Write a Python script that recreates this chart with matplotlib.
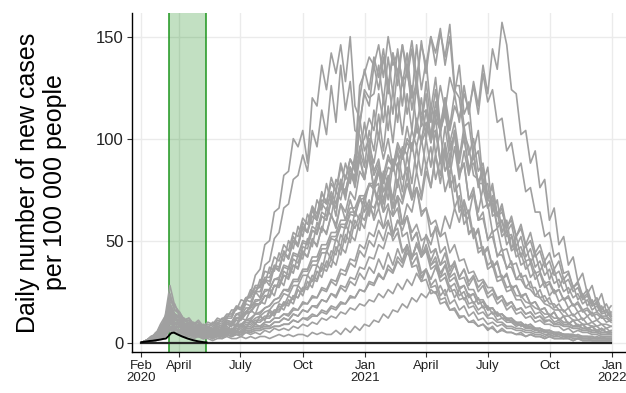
import pandas as pd
import matplotlib.pyplot as plt

plt.rcParams['font.family'] = ['Liberation Sans', 'DejaVu Sans']

# weekly points of the simulated trajectories (cases per 100 000 per day)
weeks = pd.date_range('2020-02-06', periods=100, freq='7D')

a1 = [0, 1, 3, 4, 8, 11, 19, 14, 12, 8,
      9, 6, 7, 5, 6, 5, 7, 6, 9, 9,
      14, 15, 20, 24, 33, 36, 48, 50, 64, 66,
      82, 84, 100, 96, 104, 88, 120, 116, 136, 124,
      142, 132, 146, 128, 150, 116, 110, 94, 100, 84,
      90, 74, 78, 62, 66, 52, 54, 42, 44, 34,
      36, 27, 28, 21, 22, 16, 17, 13, 13, 10,
      11, 8, 9, 6, 8, 5, 7, 5, 5, 4,
      5, 3, 4, 3, 3, 2, 3, 2, 2, 2,
      2, 1, 2, 1, 1, 1, 1, 1, 1, 1]
a2 = [0, 1, 2, 4, 5, 11, 14, 13, 9, 8,
      7, 7, 5, 6, 4, 6, 5, 7, 6, 9,
      9, 13, 15, 18, 25, 28, 38, 40, 51, 54,
      66, 68, 80, 82, 92, 84, 104, 96, 114, 102,
      126, 108, 136, 114, 128, 104, 102, 88, 90, 76,
      78, 64, 68, 54, 56, 45, 47, 37, 38, 30,
      31, 24, 25, 19, 20, 16, 16, 12, 13, 10,
      10, 8, 9, 7, 7, 5, 6, 5, 5, 4,
      4, 3, 4, 3, 3, 2, 3, 2, 2, 2,
      2, 1, 2, 1, 1, 1, 1, 1, 1, 1]
m1 = [0, 1, 3, 4, 9, 13, 28, 18, 15, 11,
      12, 9, 10, 7, 8, 7, 10, 9, 12, 12,
      17, 17, 22, 23, 28, 28, 35, 34, 42, 40,
      48, 45, 54, 52, 61, 58, 67, 63, 73, 69,
      78, 74, 86, 80, 90, 86, 120, 134, 124, 140,
      130, 144, 126, 142, 132, 146, 134, 148, 130, 146,
      136, 150, 142, 154, 136, 150, 124, 120, 102, 96,
      82, 80, 66, 68, 54, 56, 45, 46, 38, 39,
      32, 33, 27, 27, 22, 23, 19, 19, 16, 16,
      13, 14, 11, 12, 9, 10, 8, 9, 7, 8]
m2 = [0, 1, 2, 3, 7, 10, 19, 14, 13, 9,
      10, 7, 9, 6, 8, 6, 9, 8, 11, 10,
      14, 14, 19, 18, 25, 22, 31, 28, 37, 35,
      45, 41, 52, 48, 59, 54, 66, 61, 74, 68,
      81, 74, 88, 80, 90, 84, 108, 122, 116, 136,
      124, 140, 122, 142, 126, 146, 130, 144, 124, 148,
      132, 150, 136, 152, 140, 156, 126, 126, 106, 108,
      90, 94, 76, 78, 62, 64, 52, 55, 45, 47,
      38, 40, 32, 35, 27, 30, 23, 26, 20, 22,
      17, 19, 15, 16, 13, 15, 11, 13, 10, 11]
m3 = [0, 1, 2, 3, 7, 9, 17, 13, 12, 8,
      9, 6, 8, 5, 7, 5, 8, 7, 10, 9,
      12, 13, 15, 17, 20, 21, 25, 26, 31, 32,
      38, 37, 44, 43, 50, 49, 57, 55, 64, 62,
      70, 68, 76, 75, 83, 82, 106, 124, 120, 122,
      136, 118, 140, 122, 144, 126, 142, 120, 146, 124,
      138, 114, 130, 106, 120, 96, 102, 84, 88, 70,
      73, 60, 61, 51, 52, 43, 43, 37, 37, 31,
      31, 27, 26, 23, 22, 19, 18, 16, 16, 13,
      13, 11, 11, 9, 9, 8, 8, 6, 7, 5]
m4 = [0, 1, 1, 3, 4, 9, 12, 13, 8, 9,
      6, 7, 5, 6, 4, 6, 5, 7, 6, 9,
      8, 12, 11, 16, 14, 20, 19, 26, 23, 31,
      28, 37, 34, 43, 41, 51, 47, 59, 54, 66,
      62, 74, 70, 82, 78, 92, 90, 108, 94, 114,
      100, 120, 104, 124, 108, 130, 112, 126, 106, 120,
      100, 114, 92, 104, 84, 90, 74, 78, 62, 65,
      52, 56, 44, 47, 37, 40, 31, 34, 26, 28,
      22, 24, 19, 20, 16, 17, 13, 15, 11, 13,
      9, 11, 8, 9, 6, 8, 5, 7, 5, 5]
m5 = [0, 1, 1, 2, 5, 6, 12, 9, 9, 6,
      7, 4, 6, 3, 5, 3, 6, 4, 7, 5,
      8, 8, 10, 10, 12, 13, 15, 16, 19, 20,
      24, 23, 28, 28, 33, 33, 38, 38, 44, 44,
      51, 50, 57, 56, 63, 62, 70, 68, 78, 75,
      84, 78, 86, 84, 92, 90, 98, 94, 106, 98,
      104, 102, 114, 104, 112, 98, 108, 92, 100, 86,
      88, 78, 78, 70, 68, 58, 60, 52, 53, 45,
      47, 40, 41, 34, 35, 29, 30, 25, 26, 21,
      22, 18, 19, 15, 16, 13, 14, 12, 12, 10]
m6 = [0, 0, 1, 2, 4, 7, 9, 10, 6, 7,
      4, 6, 3, 5, 3, 5, 3, 6, 4, 7,
      5, 9, 7, 11, 9, 13, 11, 16, 14, 19,
      18, 23, 21, 28, 25, 33, 30, 38, 35, 45,
      41, 51, 47, 58, 53, 64, 60, 72, 62, 76,
      66, 82, 70, 88, 76, 94, 80, 98, 84, 100,
      86, 96, 80, 90, 74, 82, 66, 72, 58, 62,
      51, 55, 43, 46, 37, 39, 31, 33, 27, 28,
      23, 24, 19, 20, 16, 17, 13, 15, 11, 13,
      9, 11, 8, 9, 7, 8, 6, 7, 5, 6]
m7 = [0, 1, 1, 2, 4, 5, 10, 7, 8, 5,
      6, 3, 5, 3, 4, 2, 5, 3, 6, 4,
      7, 6, 8, 8, 10, 10, 12, 12, 15, 15,
      19, 18, 23, 22, 27, 27, 33, 31, 39, 37,
      45, 43, 53, 49, 60, 56, 63, 60, 68, 66,
      72, 64, 78, 66, 80, 70, 82, 70, 76, 64,
      66, 58, 60, 52, 54, 44, 48, 40, 41, 34,
      35, 30, 31, 27, 27, 22, 23, 19, 20, 16,
      17, 14, 15, 12, 13, 11, 11, 9, 10, 8,
      8, 7, 7, 6, 6, 5, 5, 4, 4, 4]
m8 = [0, 1, 2, 3, 7, 10, 22, 16, 14, 10,
      11, 8, 9, 7, 9, 8, 11, 10, 13, 13,
      17, 16, 21, 20, 25, 25, 31, 30, 37, 36,
      44, 41, 50, 47, 57, 54, 65, 60, 70, 68,
      72, 62, 80, 70, 86, 78, 92, 80, 92, 74,
      84, 70, 78, 66, 70, 58, 62, 50, 54, 44,
      46, 38, 40, 32, 34, 27, 29, 23, 25, 19,
      20, 16, 18, 13, 15, 11, 12, 10, 10, 8,
      9, 7, 8, 6, 7, 5, 6, 4, 5, 4,
      4, 3, 4, 3, 3, 2, 3, 2, 2, 2]
m9 = [0, 1, 2, 5, 6, 13, 20, 19, 13, 12,
      9, 10, 7, 9, 7, 10, 9, 12, 12, 16,
      16, 21, 20, 26, 24, 31, 29, 37, 35, 44,
      40, 50, 46, 57, 52, 63, 58, 70, 65, 78,
      68, 80, 76, 88, 80, 90, 126, 132, 140, 136,
      146, 130, 150, 136, 142, 128, 132, 120, 126, 112,
      114, 102, 104, 90, 92, 78, 80, 66, 68, 54,
      56, 46, 47, 38, 40, 32, 33, 27, 28, 23,
      23, 20, 19, 17, 16, 14, 14, 12, 12, 10,
      10, 8, 9, 7, 7, 6, 6, 5, 5, 4]
m10 = [0, 0, 1, 2, 3, 6, 7, 8, 5, 6,
       4, 5, 3, 5, 3, 5, 3, 6, 4, 7,
       5, 9, 7, 11, 9, 13, 11, 15, 13, 18,
       16, 21, 19, 26, 23, 30, 27, 35, 32, 40,
       37, 47, 43, 53, 49, 60, 55, 68, 63, 76,
       70, 84, 78, 90, 86, 96, 92, 104, 96, 108,
       104, 116, 110, 126, 114, 130, 122, 136, 112, 118,
       94, 104, 78, 86, 64, 70, 54, 60, 46, 52,
       42, 48, 39, 44, 35, 40, 31, 36, 27, 32,
       24, 28, 21, 24, 18, 21, 15, 18, 13, 15]
m11 = [0, 1, 1, 2, 5, 6, 12, 9, 9, 6,
       7, 4, 6, 4, 5, 3, 6, 4, 7, 5,
       8, 7, 9, 9, 11, 11, 13, 13, 16, 16,
       20, 19, 23, 22, 27, 26, 31, 30, 37, 35,
       41, 38, 47, 44, 53, 50, 60, 56, 67, 62,
       76, 68, 82, 70, 88, 74, 92, 78, 96, 82,
       100, 86, 104, 88, 106, 90, 104, 88, 102, 84,
       94, 76, 86, 66, 70, 56, 60, 48, 52, 42,
       44, 36, 39, 31, 34, 27, 29, 24, 26, 21,
       23, 18, 20, 16, 17, 14, 15, 13, 13, 11]
m12 = [0, 1, 1, 3, 6, 8, 15, 11, 11, 7,
       8, 6, 7, 5, 6, 5, 7, 6, 9, 8,
       11, 11, 14, 15, 18, 19, 23, 23, 28, 28,
       35, 33, 41, 39, 47, 46, 55, 53, 62, 60,
       70, 66, 78, 73, 86, 80, 94, 86, 104, 94,
       112, 94, 116, 98, 120, 102, 122, 104, 126, 106,
       128, 108, 124, 102, 118, 94, 102, 82, 88, 70,
       76, 60, 64, 50, 55, 42, 46, 36, 40, 31,
       34, 27, 30, 23, 26, 20, 22, 17, 19, 15,
       17, 13, 15, 11, 13, 10, 11, 9, 9, 8]
m13 = [0, 1, 2, 3, 6, 8, 17, 12, 11, 8,
       9, 6, 8, 5, 7, 6, 8, 7, 10, 9,
       12, 12, 15, 15, 19, 19, 23, 22, 28, 27,
       33, 31, 38, 36, 45, 42, 51, 47, 57, 53,
       63, 56, 68, 60, 70, 62, 72, 64, 70, 60,
       66, 56, 60, 50, 54, 44, 48, 38, 42, 32,
       36, 28, 31, 23, 26, 19, 21, 16, 18, 13,
       15, 11, 12, 9, 10, 8, 9, 7, 7, 6,
       6, 5, 5, 4, 4, 3, 4, 3, 3, 2,
       3, 2, 2, 2, 2, 1, 1, 1, 1, 1]
m14 = [0, 0, 1, 1, 3, 4, 8, 6, 6, 4,
       5, 3, 5, 3, 4, 3, 4, 4, 5, 5,
       6, 5, 7, 7, 8, 8, 10, 10, 12, 12,
       14, 14, 17, 16, 20, 19, 23, 22, 27, 26,
       31, 30, 36, 35, 41, 40, 48, 46, 54, 52,
       60, 56, 66, 62, 72, 68, 78, 70, 84, 72,
       88, 76, 92, 78, 94, 82, 96, 80, 94, 82,
       92, 78, 86, 70, 78, 62, 68, 56, 62, 52,
       58, 48, 54, 44, 48, 40, 44, 36, 40, 31,
       34, 27, 30, 23, 26, 19, 22, 16, 19, 14]
n1 = [0, 0, 1, 2, 3, 5, 8, 6, 6, 4,
      5, 3, 4, 2, 3, 2, 3, 2, 4, 3,
      4, 3, 5, 4, 5, 4, 6, 5, 7, 6,
      7, 6, 8, 7, 9, 8, 10, 9, 12, 11,
      13, 12, 15, 14, 17, 16, 19, 18, 21, 20,
      24, 22, 26, 24, 29, 26, 31, 28, 34, 30,
      36, 31, 37, 32, 38, 33, 38, 32, 36, 30,
      33, 27, 30, 24, 26, 21, 23, 18, 20, 16,
      17, 14, 15, 12, 13, 10, 11, 9, 9, 8,
      8, 7, 7, 6, 6, 5, 5, 4, 4, 4]
n2 = [0, 1, 2, 3, 6, 10, 18, 14, 12, 9,
      10, 7, 9, 6, 8, 6, 9, 8, 11, 10,
      14, 13, 17, 17, 21, 21, 26, 26, 31, 31,
      37, 36, 43, 42, 49, 48, 55, 54, 62, 60,
      69, 66, 76, 72, 82, 78, 96, 100, 110, 104,
      122, 108, 128, 112, 134, 116, 136, 114, 130, 108,
      122, 98, 110, 88, 96, 76, 82, 64, 68, 53,
      56, 44, 46, 36, 38, 30, 31, 25, 26, 21,
      21, 17, 18, 14, 15, 12, 13, 10, 11, 9,
      9, 8, 8, 7, 7, 6, 6, 5, 5, 5]
n3 = [0, 1, 2, 3, 7, 10, 24, 16, 15, 11,
      12, 9, 11, 8, 10, 9, 12, 11, 14, 14,
      18, 17, 22, 22, 27, 27, 32, 32, 38, 37,
      44, 42, 50, 48, 56, 54, 62, 60, 68, 65,
      74, 68, 80, 72, 86, 76, 90, 80, 94, 82,
      88, 74, 80, 66, 72, 58, 62, 50, 54, 42,
      45, 36, 38, 30, 32, 25, 26, 21, 22, 17,
      18, 14, 15, 12, 12, 10, 10, 8, 8, 7,
      7, 6, 6, 5, 5, 4, 4, 3, 4, 3,
      3, 3, 3, 2, 2, 2, 2, 2, 2, 2]
n4 = [0, 0, 1, 1, 2, 4, 7, 5, 5, 4,
      4, 3, 4, 3, 3, 3, 4, 3, 5, 4,
      5, 5, 6, 6, 7, 7, 8, 8, 10, 10,
      12, 11, 14, 13, 16, 15, 18, 18, 21, 20,
      24, 23, 28, 27, 32, 31, 37, 36, 42, 41,
      48, 46, 54, 52, 60, 58, 68, 64, 76, 70,
      84, 76, 92, 82, 98, 86, 104, 90, 106, 92,
      100, 84, 88, 72, 76, 62, 66, 54, 58, 47,
      52, 42, 46, 37, 40, 33, 36, 29, 31, 25,
      27, 22, 24, 19, 21, 16, 18, 14, 15, 12]
n5 = [0, 1, 1, 2, 4, 6, 11, 8, 8, 5,
      6, 4, 5, 3, 4, 3, 4, 3, 5, 4,
      5, 5, 6, 6, 7, 7, 9, 8, 10, 10,
      12, 11, 14, 13, 16, 15, 18, 17, 21, 20,
      24, 22, 27, 25, 30, 28, 34, 31, 37, 34,
      41, 36, 44, 38, 46, 40, 48, 41, 49, 42,
      48, 40, 46, 38, 44, 35, 40, 32, 36, 28,
      32, 25, 28, 22, 24, 19, 21, 16, 18, 14,
      15, 12, 13, 10, 11, 9, 9, 8, 8, 6,
      7, 5, 6, 5, 5, 4, 4, 3, 3, 3]
n6 = [0, 0, 1, 1, 2, 3, 6, 5, 4, 3,
      4, 3, 3, 2, 3, 2, 3, 3, 4, 3,
      4, 4, 5, 5, 6, 6, 7, 7, 8, 8,
      9, 9, 11, 10, 12, 12, 14, 13, 16, 15,
      18, 17, 20, 19, 23, 22, 26, 25, 29, 28,
      33, 31, 36, 34, 40, 37, 44, 41, 48, 44,
      53, 48, 57, 52, 62, 56, 66, 59, 70, 62,
      74, 64, 76, 66, 72, 62, 64, 57, 60, 52,
      56, 47, 50, 42, 45, 37, 40, 33, 35, 29,
      31, 25, 27, 21, 23, 18, 19, 15, 16, 13]
n7 = [0, 1, 2, 3, 6, 9, 16, 12, 11, 8,
      9, 7, 8, 6, 7, 6, 8, 7, 10, 9,
      12, 12, 15, 15, 19, 19, 23, 23, 28, 28,
      33, 32, 38, 37, 44, 42, 50, 48, 56, 54,
      62, 58, 68, 64, 74, 70, 84, 80, 96, 88,
      102, 90, 100, 86, 94, 80, 86, 72, 76, 62,
      66, 52, 56, 44, 47, 37, 39, 31, 32, 26,
      26, 21, 21, 17, 17, 14, 14, 11, 11, 9,
      9, 7, 7, 6, 6, 5, 5, 4, 4, 3,
      3, 3, 3, 2, 2, 2, 2, 2, 2, 2]
b1 = [0, 1, 1, 3, 5, 8, 14, 10, 10, 7,
      8, 5, 7, 4, 6, 4, 6, 5, 7, 6,
      9, 8, 11, 11, 14, 14, 17, 18, 21, 22,
      26, 25, 30, 30, 35, 35, 40, 40, 46, 46,
      52, 52, 58, 58, 64, 64, 70, 71, 77, 77,
      84, 82, 92, 86, 98, 92, 106, 94, 110, 98,
      114, 100, 118, 104, 120, 106, 122, 108, 126, 112,
      128, 116, 136, 122, 144, 134, 157, 146, 124, 122,
      102, 104, 88, 94, 76, 80, 60, 66, 48, 52,
      38, 42, 30, 34, 24, 28, 19, 24, 15, 18]
b2 = [0, 1, 2, 3, 6, 7, 13, 9, 9, 6,
      7, 5, 6, 4, 6, 4, 7, 5, 8, 6,
      9, 9, 11, 12, 14, 15, 17, 18, 21, 22,
      26, 26, 31, 31, 36, 36, 42, 42, 48, 48,
      54, 54, 60, 60, 66, 66, 72, 72, 78, 78,
      86, 80, 90, 86, 96, 90, 100, 96, 104, 100,
      108, 98, 110, 104, 114, 104, 116, 110, 122, 114,
      126, 112, 132, 118, 124, 108, 110, 94, 98, 84,
      88, 74, 76, 64, 64, 52, 54, 42, 44, 34,
      35, 27, 29, 22, 24, 18, 20, 15, 16, 13]
l1 = [0, 0, 1, 1, 2, 4, 7, 5, 4, 3,
      3, 2, 3, 2, 2, 1, 2, 2, 3, 2,
      2, 3, 2, 3, 2, 3, 3, 2, 3, 4,
      3, 4, 3, 4, 4, 3, 5, 4, 5, 4,
      4, 6, 4, 7, 5, 8, 6, 9, 8, 11,
      10, 14, 12, 16, 15, 19, 17, 22, 20, 24,
      22, 26, 24, 28, 23, 28, 22, 26, 21, 24,
      19, 22, 17, 18, 14, 15, 12, 12, 10, 10,
      8, 9, 7, 7, 5, 6, 4, 5, 4, 4,
      3, 3, 3, 2, 2, 2, 2, 2, 2, 2]
l2 = [0, 1, 1, 2, 3, 6, 8, 7, 5, 5,
      4, 3, 4, 3, 3, 2, 4, 3, 4, 3,
      5, 4, 6, 5, 6, 6, 7, 7, 8, 8,
      9, 9, 11, 10, 12, 11, 13, 13, 15, 14,
      17, 16, 19, 19, 22, 22, 26, 25, 30, 29,
      34, 31, 38, 35, 42, 39, 46, 42, 48, 42,
      46, 38, 42, 34, 38, 30, 32, 26, 28, 22,
      24, 19, 20, 16, 17, 13, 14, 11, 12, 9,
      10, 8, 9, 7, 7, 6, 6, 5, 5, 4,
      4, 4, 3, 3, 3, 3, 2, 3, 2, 2]
l3 = [0, 1, 1, 2, 5, 5, 10, 7, 8, 5,
      6, 4, 5, 3, 5, 3, 5, 3, 6, 4,
      6, 5, 7, 7, 9, 8, 10, 10, 12, 12,
      14, 13, 16, 16, 19, 19, 22, 22, 26, 25,
      30, 28, 34, 33, 39, 37, 45, 42, 50, 47,
      55, 50, 59, 53, 60, 55, 62, 54, 58, 50,
      52, 44, 46, 38, 40, 32, 34, 27, 28, 23,
      24, 19, 20, 16, 17, 13, 14, 12, 12, 10,
      10, 8, 9, 7, 7, 6, 6, 5, 5, 4,
      4, 4, 3, 3, 3, 3, 2, 2, 2, 2]

simulations = [a1, a2, m1, m2, m3, m4, m5, m6, m7, m8, m9, m10, m11, m12,
               m13, m14, n1, n2, n3, n4, n5, n6, n7, b1, b2, l1, l2, l3]

# observed curve during the first wave, every 4 days
obs_dates = pd.date_range('2020-02-06', '2020-05-12', freq='4D')
observed = [0.2, 0.4, 0.6, 0.8, 0.9, 1.1, 1.3, 1.5, 1.8, 2.0,
            3.3, 4.7, 4.9, 4.2, 3.6, 3.0, 2.5, 2.0, 1.6, 1.2,
            0.9, 0.6, 0.4, 0.2, 0.1]
baseline = [0] * len(weeks)

lockdown_start = pd.Timestamp('2020-03-17')
lockdown_end = pd.Timestamp('2020-05-11')

tick_dates = pd.to_datetime(['2020-02-06', '2020-04-01', '2020-07-01',
                             '2020-10-01', '2021-01-01', '2021-04-01',
                             '2021-07-01', '2021-10-01', '2022-01-01'])
tick_labels = ['Feb\n2020', 'April', 'July', 'Oct', 'Jan\n2021',
               'April', 'July', 'Oct', 'Jan\n2022']
y_ticks = [0, 50, 100, 150]

fig = plt.figure(figsize=(6.26, 3.93), dpi=100)
ax = fig.add_axes([132 / 626, 41 / 393, 494 / 626, 339 / 393])

ax.axvspan(lockdown_start, lockdown_end, facecolor='green', alpha=0.24,
           lw=0, zorder=1)
ax.axvline(lockdown_start, color='#1e961e', lw=1.1, zorder=1.5)
ax.axvline(lockdown_end, color='#1e961e', lw=1.1, zorder=1.5)

for sim in simulations:
    ax.plot(weeks, sim, color='#a0a0a0', lw=1.2, zorder=2)

ax.plot(weeks, baseline, color='#262626', lw=1.6, zorder=3)
ax.plot(obs_dates, observed, color='black', lw=1.4, zorder=4)

ax.set_xlim(pd.Timestamp('2020-01-23'), pd.Timestamp('2022-01-21'))
ax.set_ylim(-4.6, 161.6)
ax.set_xticks(tick_dates)
ax.set_xticklabels(tick_labels, fontsize=9.5, linespacing=0.95,
                   color='#222222')
ax.set_yticks(y_ticks)
ax.set_yticklabels([str(v) for v in y_ticks], fontsize=12, color='#222222')
ax.tick_params(length=3.3, width=0.8, color='#333333', pad=2.5)

ax.grid(True, color='#ebebeb', lw=1.0)
ax.set_axisbelow(True)
for side in ['top', 'right']:
    ax.spines[side].set_visible(False)
for side in ['left', 'bottom']:
    ax.spines[side].set_color('black')
    ax.spines[side].set_linewidth(1.0)

ax.set_ylabel('Daily number of new cases\nper 100 000 people', fontsize=18,
              linespacing=1.18, va='center')
ax.yaxis.set_label_coords(-0.183, 0.5)

fig.savefig('out.png', dpi=100)
